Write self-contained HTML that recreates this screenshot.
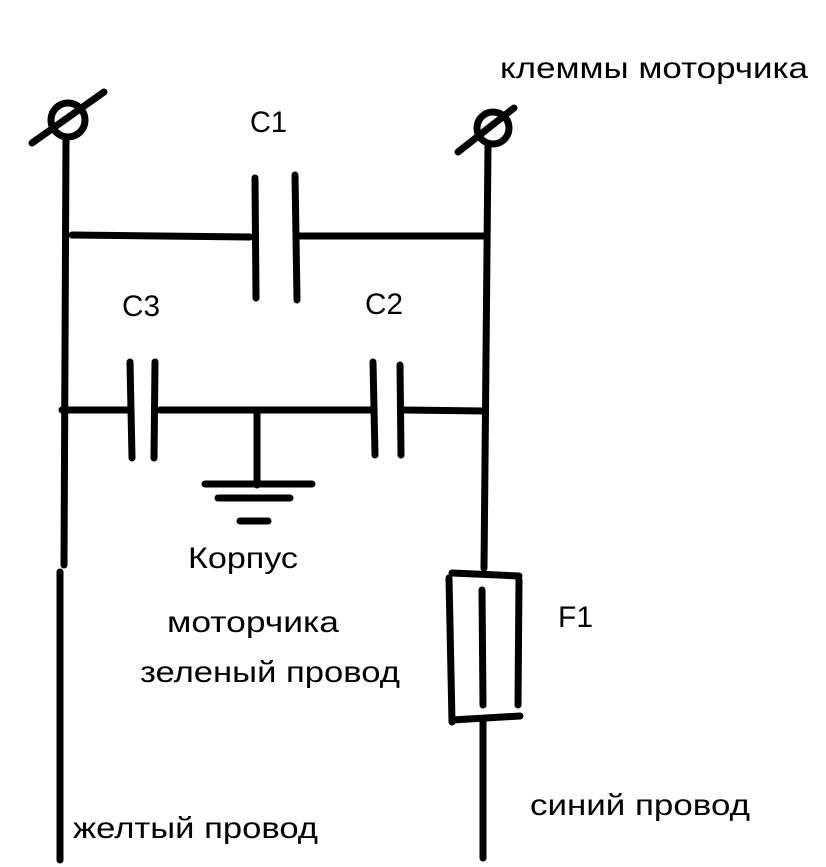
<!DOCTYPE html>
<html><head><meta charset="utf-8"><style>
html,body{margin:0;padding:0;background:#fff;}
svg{display:block;}
text{font-family:"Liberation Sans","DejaVu Sans",sans-serif;font-size:30px;fill:#000;}
</style></head><body>
<svg width="826" height="867" viewBox="0 0 826 867" xmlns="http://www.w3.org/2000/svg">
<g stroke="#000" stroke-width="7" fill="none" stroke-linecap="round">
<!-- left terminal -->
<circle cx="68" cy="120" r="17"/>
<line x1="32" y1="143" x2="104" y2="92"/>
<line x1="66" y1="138" x2="64" y2="565"/>
<line x1="60" y1="572" x2="60" y2="860"/>
<!-- right terminal -->
<circle cx="493" cy="128" r="16"/>
<line x1="458" y1="152" x2="514" y2="108"/>
<line x1="488" y1="145" x2="484" y2="568"/>
<!-- fuse -->
<line x1="452" y1="573" x2="519" y2="576"/>
<line x1="449" y1="578" x2="452" y2="722"/>
<line x1="519" y1="580" x2="518" y2="705"/>
<line x1="452" y1="720" x2="520" y2="716"/>
<line x1="482" y1="590" x2="483" y2="705"/>
<line x1="483" y1="722" x2="483" y2="858"/>
<!-- C1 -->
<line x1="72" y1="235" x2="250" y2="237"/>
<line x1="255" y1="178" x2="256" y2="298"/>
<line x1="295" y1="175" x2="297" y2="300"/>
<line x1="300" y1="236" x2="487" y2="236"/>
<!-- C3 / C2 -->
<line x1="62" y1="410" x2="130" y2="410"/>
<line x1="130" y1="362" x2="132" y2="458"/>
<line x1="155" y1="362" x2="154" y2="458"/>
<line x1="160" y1="410" x2="370" y2="410"/>
<line x1="373" y1="362" x2="375" y2="455"/>
<line x1="400" y1="365" x2="401" y2="455"/>
<line x1="405" y1="410" x2="484" y2="411"/>
<!-- ground -->
<line x1="257" y1="412" x2="257" y2="485"/>
<line x1="205" y1="484" x2="312" y2="484"/>
<line x1="218" y1="498" x2="290" y2="498"/>
<line x1="240" y1="521" x2="268" y2="521"/>
</g>
<text x="500" y="78" textLength="308" lengthAdjust="spacingAndGlyphs">клеммы моторчика</text>
<text x="250" y="132" textLength="37" lengthAdjust="spacingAndGlyphs">C1</text>
<text x="122" y="316" textLength="38" lengthAdjust="spacingAndGlyphs">C3</text>
<text x="365" y="314" textLength="38" lengthAdjust="spacingAndGlyphs">C2</text>
<text x="188" y="568" textLength="110" lengthAdjust="spacingAndGlyphs">Корпус</text>
<text x="167" y="632" textLength="172" lengthAdjust="spacingAndGlyphs">моторчика</text>
<text x="140" y="682" textLength="260" lengthAdjust="spacingAndGlyphs">зеленый провод</text>
<text x="558" y="627" textLength="35" lengthAdjust="spacingAndGlyphs">F1</text>
<text x="530" y="815" textLength="220" lengthAdjust="spacingAndGlyphs">синий провод</text>
<text x="73" y="838" textLength="245" lengthAdjust="spacingAndGlyphs">желтый провод</text>
</svg>
</body></html>
